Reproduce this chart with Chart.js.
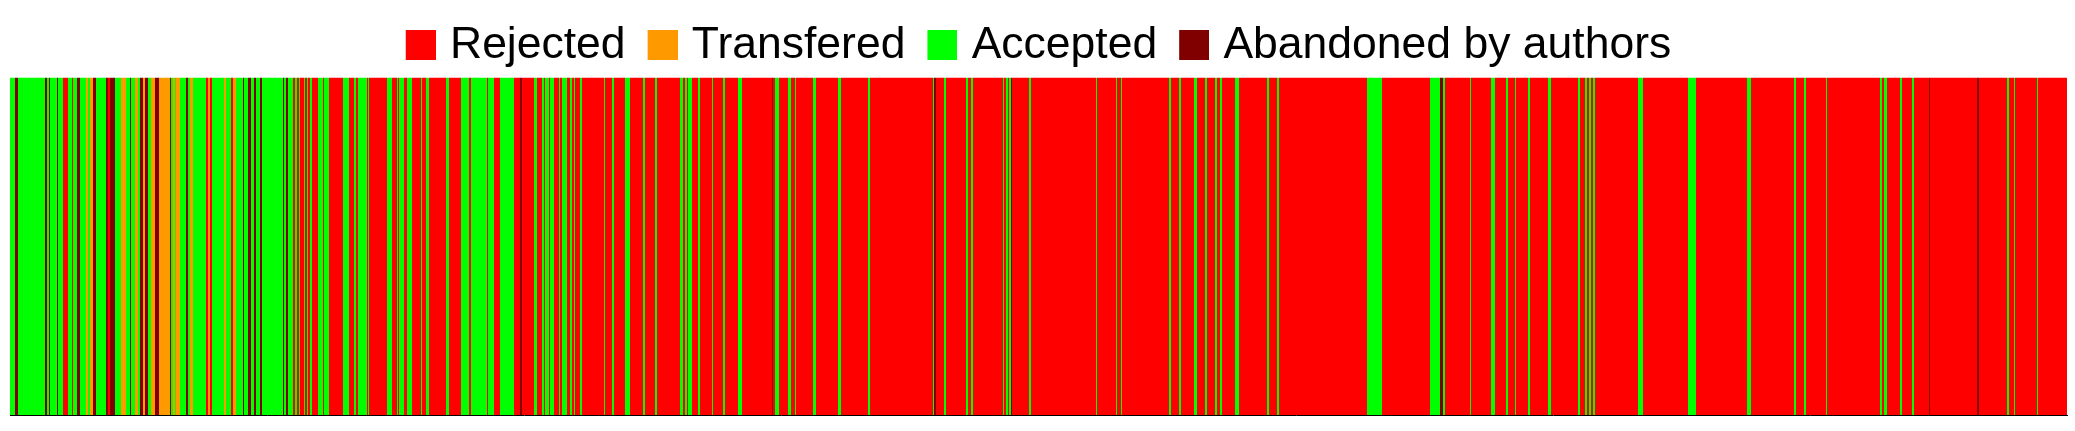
<!DOCTYPE html>
<html>
<head>
<meta charset="utf-8">
<script src="https://cdn.jsdelivr.net/npm/chart.js@4.4.1/dist/chart.umd.min.js"></script>
<style>
  html, body { margin: 0; padding: 0; background: #fff; }
  canvas { display: block; }
</style>
</head>
<body>
<canvas id="chart" width="2075" height="431"></canvas>
<script>
const statusCodes = ['R', 'T', 'A', 'D'];
const statusNames = ['Rejected', 'Transfered', 'Accepted', 'Abandoned by authors'];
const statusColors = ['#ff0000', '#ff9900', '#00ff00', '#800000'];

// submissions in order, run-length encoded (status of a run, how many in a row)
const runStatus = [
  'A','D','A','D','A','D','A','D','A','R','A','R','A','D','A','T','A','T','D','A','D','R','D','A','T','A','D','A','T','A','D','T','D','A','T','D','T','D','A','T','A','T','A','D','A','T','A','R','T','R','A','T','A','R','T','A','D','A','D','A','D','A',
  'D','A','D','A','D','A','R','A','R','A','R','A','R','A','R','A','R','A','R','A','R','A','R','A','R','A','R','A','R','A','R','A','R','A','R','A','R','A','R','A','R','A','R','A','R','A','R','A','R','A','R',
  'D','R','A','R','A','R','A','R','A','R','A','R','A','R','A','R','A','R','A','R','A','R','A','R','A','R','A','R','A','R','A','R','A','R','A','R','A','R','A','R','A','R','A','R','D','R','A','R',
  'A','R','A','R','A','R','A','R','A','R','A','D','R','A','R','A','R','A','R','A','R','A','R','A','D','R','A','R','A','R','A','R','A','R','A','R','A','R','A','R','A','R','A','R','A','R',
  'A','R','A','R','A','R','A','R','A','D','A','R','A','R','A','R','A','R','A','R','A','R','A','R','A','R','A','R','A','R','A','R','A','R',
  'A','R','A','R','A','R','A','R','A','R','A','R','A','R','A','R','A','R','D','R','D','R','A','R','A','R','A','R'
];
const runLength = [
  5,3,27,2,2,1,7,1,5,5,4,1,4,3,6,2,2,3,3,10,2,2,5,6,5,4,1,4,3,2,3,2,3,3,4,4,11,1,2,2,1,4,6,2,2,3,13,2,2,2,12,2,5,2,3,7,1,4,3,3,2,4,
  2,21,1,2,2,5,2,2,2,1,4,1,2,1,2,2,6,5,1,5,14,6,5,2,2,9,1,1,18,5,5,1,1,5,3,5,9,1,4,3,17,3,12,8,2,16,1,6,6,14,6,
  2,12,3,5,2,1,4,1,4,5,1,2,5,3,2,2,1,5,2,22,1,7,2,11,5,13,2,10,2,23,3,2,2,1,4,6,2,12,1,10,2,13,4,30,1,2,4,9,
  3,4,1,17,3,22,3,27,2,63,1,2,8,2,20,2,3,2,30,1,2,2,1,2,1,17,2,65,1,19,1,4,1,47,2,8,2,13,3,8,2,8,2,3,2,13,
  4,28,2,8,2,88,15,48,10,3,2,25,1,20,4,11,2,7,1,12,2,18,3,27,2,5,2,2,2,2,2,43,5,45,
  8,51,4,43,2,8,2,20,1,53,2,2,3,13,2,10,2,15,1,47,2,28,2,5,1,22,1,29
];

const decisions = [];
runStatus.forEach((s, i) => {
  for (let k = 0; k < runLength[i]; k++) decisions.push(s);
});
const labels = decisions.map((_, i) => i + 1);

const datasets = statusCodes.map((code, j) => ({
  label: statusNames[j],
  data: decisions.map(s => (s === code ? 1 : null)),
  backgroundColor: statusColors[j],
  borderWidth: 0,
  barPercentage: 1,
  categoryPercentage: 1,
  inflateAmount: 0
}));

// legend swatch: 30px square drawn as a point style image, with an empty strip
// on the left so the square starts at the item's x and the text sits 14px after it
const swatches = statusColors.map(c => {
  const cv = document.createElement('canvas');
  cv.width = 38;
  cv.height = 30;
  const g = cv.getContext('2d');
  g.fillStyle = c;
  g.fillRect(8, 0, 30, 30);
  return cv;
});

new Chart(document.getElementById('chart').getContext('2d'), {
  type: 'bar',
  data: { labels: labels, datasets: datasets },
  options: {
    responsive: false,
    animation: false,
    devicePixelRatio: 1,
    layout: { padding: { left: 10, right: 8, top: 1, bottom: 8 } },
    plugins: {
      legend: {
        position: 'top',
        labels: {
          usePointStyle: true,
          boxWidth: 22,
          boxHeight: 30,
          padding: 22,
          color: '#000',
          font: { family: "'Liberation Sans', Arial, sans-serif", size: 44.5, lineHeight: 1 },
          generateLabels(chart) {
            const items = Chart.defaults.plugins.legend.labels.generateLabels(chart);
            items.forEach((item, i) => { item.pointStyle = swatches[i]; });
            return items;
          }
        }
      },
      tooltip: { enabled: false }
    },
    scales: {
      x: {
        stacked: true,
        grid: { display: false },
        ticks: { display: false },
        border: { display: true, color: '#000', width: 1 }
      },
      y: {
        stacked: true,
        display: false,
        min: 0,
        max: 1
      }
    }
  }
});
</script>
</body>
</html>
